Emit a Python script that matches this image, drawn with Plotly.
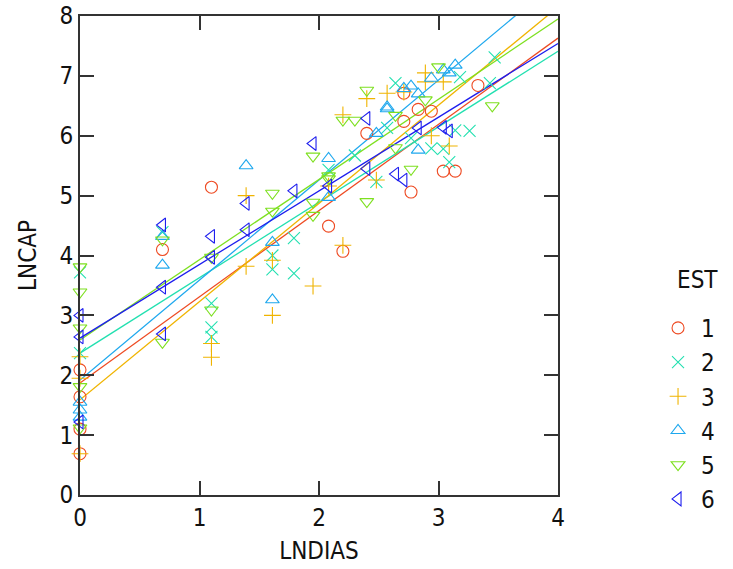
import plotly.graph_objects as go

# ---- data ----
est_labels = ["1", "2", "3", "4", "5", "6"]

x1 = [0, 0, 0, 0, 0.69, 1.10, 2.08, 2.20, 2.40, 2.71, 2.71, 2.77, 2.83, 2.94, 3.04, 3.14, 3.33]
y1 = [2.09, 1.64, 1.10, 0.69, 4.10, 5.14, 4.49, 4.07, 6.04, 6.71, 6.24, 5.06, 6.44, 6.41, 5.41, 5.41, 6.84]

x2 = [0, 0, 0.69, 1.10, 1.10, 1.10, 1.61, 1.61, 1.79, 1.79, 2.08, 2.30, 2.48, 2.57, 2.64, 2.77,
      2.94, 3.04, 3.09, 3.14, 3.18, 3.26, 3.43, 3.47]
y2 = [3.72, 2.37, 4.39, 3.20, 2.80, 2.64, 4.00, 3.77, 4.29, 3.70, 5.43, 5.67, 5.23, 6.13, 6.88, 5.96,
      5.79, 5.78, 5.56, 6.09, 6.98, 6.08, 6.88, 7.31]

x3 = [0, 0, 0, 1.10, 1.10, 1.39, 1.39, 1.61, 1.61, 1.95, 2.08, 2.20, 2.20, 2.40, 2.48, 2.57, 2.71,
      2.89, 2.89, 2.94, 3.04, 3.09]
y3 = [2.31, 1.95, 0.69, 2.53, 2.30, 5.00, 3.82, 3.92, 3.00, 3.49, 5.16, 6.35, 4.17, 6.62, 5.26, 6.71, 6.73,
      7.05, 6.90, 6.00, 6.90, 5.83]

x4 = [0, 0, 0, 0.69, 0.69, 1.39, 1.61, 1.61, 2.08, 2.08, 2.48, 2.57, 2.57, 2.71, 2.77, 2.83, 2.83,
      2.94, 3.04, 3.09, 3.14]
y4 = [1.55, 1.42, 1.30, 4.32, 3.84, 5.50, 4.22, 3.26, 5.62, 4.97, 6.04, 6.48, 6.45, 6.79, 6.83, 6.70, 5.76,
      6.96, 7.10, 7.05, 7.18]

x5 = [0, 0, 0, 0, 0, 0.69, 0.69, 1.10, 1.10, 1.61, 1.61, 1.95, 1.95, 1.95, 2.08, 2.08, 2.20, 2.30,
      2.40, 2.40, 2.64, 2.64, 2.77, 2.89, 3.00, 3.45]
y5 = [3.81, 3.39, 2.79, 1.81, 1.12, 4.26, 2.55, 3.97, 3.09, 5.04, 4.74, 5.66, 4.89, 4.67, 5.33, 5.28, 6.26, 6.26,
      6.76, 4.90, 6.34, 5.80, 5.44, 6.60, 7.15, 6.50]

x6 = [0, 0, 0, 0.69, 0.69, 0.69, 1.10, 1.10, 1.39, 1.39, 1.79, 1.95, 2.08, 2.40, 2.40, 2.64, 2.71,
      2.83, 3.04, 3.09]
y6 = [3.00, 2.64, 1.22, 4.51, 3.47, 2.69, 4.32, 3.97, 4.87, 4.43, 5.08, 5.87, 5.16, 6.29, 5.45, 5.36, 5.26,
      6.13, 6.14, 6.08]

# fitted regression lines per group (intercept, slope)
intercepts = [1.87, 2.37, 1.59, 1.92, 2.59, 2.62]
slopes = [1.44, 1.26, 1.64, 1.67, 1.34, 1.23]
fit_x = [0, 4]

xs = [x1, x2, x3, x4, x5, x6]
ys = [y1, y2, y3, y4, y5, y6]

colors = ["#EE4A22", "#22E0B0", "#F0B400", "#1EA8EE", "#7EE020", "#1E1EEE"]
symbols = ["circle-open", "x-thin-open", "cross-thin-open",
           "triangle-up-open", "triangle-down-open", "triangle-left-open"]

FONT = "Liberation Sans Narrow, DejaVu Sans Condensed, Arial Narrow, sans-serif"
FS = 24

fig = go.Figure()

# regression lines
for i in range(6):
    fy = [intercepts[i] + slopes[i] * v for v in fit_x]
    fig.add_trace(go.Scatter(x=fit_x, y=fy, mode="lines",
                             line=dict(color=colors[i], width=1.3),
                             showlegend=False, hoverinfo="skip"))

# points
for i in range(6):
    fig.add_trace(go.Scatter(x=xs[i], y=ys[i], mode="markers", name=est_labels[i],
                             marker=dict(symbol=symbols[i], size=12, color=colors[i],
                                         line=dict(color=colors[i], width=1.1)),
                             cliponaxis=False))

axis_common = dict(showgrid=False, zeroline=False, showline=True, mirror="allticks",
                   linecolor="#333333", linewidth=2, ticks="inside", ticklen=14,
                   tickwidth=1.5, tickcolor="#333333", automargin=False,
                   tickfont=dict(family=FONT, size=FS, color="#111111"))

fig.update_layout(
    width=733, height=569,
    margin=dict(l=80, r=175, t=16, b=74),
    paper_bgcolor="white", plot_bgcolor="white",
    font=dict(family=FONT, size=FS, color="#111111"),
    xaxis=dict(range=[0, 4], tickvals=[0, 1, 2, 3, 4], **axis_common,
               title=dict(text="LNDIAS", font=dict(family=FONT, size=FS), standoff=11)),
    yaxis=dict(range=[0, 8], tickvals=list(range(9)), **axis_common,
               title=dict(text="LNCAP", font=dict(family=FONT, size=FS), standoff=16)),
    legend=dict(x=1.203, y=0.395, xanchor="left", yanchor="top",
                font=dict(family=FONT, size=FS), bgcolor="rgba(0,0,0,0)",
                itemwidth=36, tracegroupgap=0),
    annotations=[dict(text="EST", xref="paper", yref="paper", x=1.245, y=0.449,
                      xanchor="left", yanchor="middle", showarrow=False,
                      font=dict(family=FONT, size=FS, color="#111111"))],
)

fig.write_html("out.html", config={"displayModeBar": False},
               post_script="document.body.style.margin='0';document.body.style.overflow='hidden';")
